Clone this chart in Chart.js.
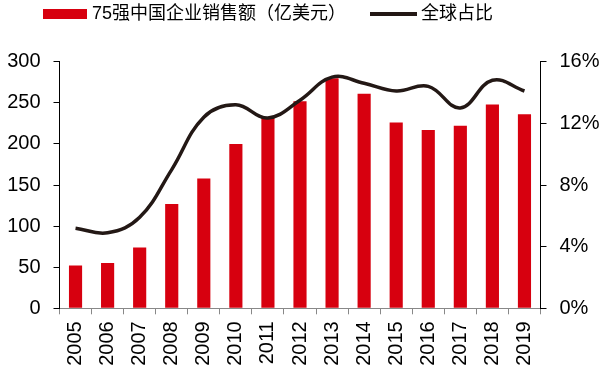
<!DOCTYPE html>
<html>
<head>
<meta charset="utf-8">
<script src="https://cdn.jsdelivr.net/npm/chart.js@4.4.0/dist/chart.umd.min.js"></script>
<style>
  html, body { margin: 0; padding: 0; background: #fff; }
</style>
</head>
<body>
<canvas id="chart" width="601" height="371"></canvas>
<script>
// data
var years = ['2005','2006','2007','2008','2009','2010','2011','2012','2013','2014','2015','2016','2017','2018','2019'];
var salesLabel = '75强中国企业销售额（亿美元）';
var shareLabel = '全球占比';
var sales = [52, 55, 74, 127, 158, 200, 232, 252, 280, 261, 226, 217, 222, 248, 236];
var share = [5.2, 4.9, 5.9, 9.0, 12.4, 13.2, 12.35, 13.5, 15.0, 14.6, 14.1, 14.4, 13.0, 14.8, 14.1];
var leftTicks = [0, 50, 100, 150, 200, 250, 300];
var rightTicks = [0, 4, 8, 12, 16];

var tickFont = { family: '"Liberation Sans", Arial, sans-serif', size: 20 };

// legend drawn by hand so it can sit above the plot like the original
var topLegend = {
  id: 'topLegend',
  afterDraw: function (chart) {
    var ctx = chart.ctx;
    var ds = chart.data.datasets;
    ctx.save();
    ctx.font = '18px "Liberation Sans", "Noto Sans CJK SC", sans-serif';
    ctx.textBaseline = 'middle';
    ctx.textAlign = 'left';
    ctx.fillStyle = ds[0].backgroundColor;
    ctx.fillRect(43, 9, 44, 10);
    ctx.fillStyle = '#000';
    ctx.fillText(ds[0].label, 92, 14);
    ctx.strokeStyle = ds[1].borderColor;
    ctx.lineWidth = 4;
    ctx.beginPath();
    ctx.moveTo(370, 14);
    ctx.lineTo(417, 14);
    ctx.stroke();
    ctx.fillStyle = '#000';
    ctx.fillText(ds[1].label, 421, 14);
    ctx.restore();
  }
};

var ctx = document.getElementById('chart').getContext('2d');
var chart = new Chart(ctx, {
  type: 'bar',
  data: {
    labels: years,
    datasets: [
      {
        type: 'bar',
        label: salesLabel,
        data: sales,
        backgroundColor: '#d7000f',
        categoryPercentage: 1,
        barPercentage: 0.41,
        yAxisID: 'y',
        order: 2
      },
      {
        type: 'line',
        label: shareLabel,
        data: share,
        borderColor: '#231815',
        borderWidth: 3.5,
        pointRadius: 0,
        tension: 0.4,
        fill: false,
        yAxisID: 'y1',
        order: 1
      }
    ]
  },
  options: {
    responsive: false,
    animation: false,
    devicePixelRatio: 1,
    layout: { padding: { top: 61.7, left: 0, right: 0, bottom: 0 } },
    plugins: {
      legend: { display: false },
      tooltip: { enabled: false }
    },
    scales: {
      x: {
        grid: { offset: true, drawOnChartArea: false, drawTicks: true, tickLength: 6, color: '#888' },
        border: { color: '#888', width: 1 },
        ticks: { minRotation: 90, maxRotation: 90, padding: 7, color: '#000', font: tickFont },
        afterFit: function (s) { s.height = 62.7; }
      },
      y: {
        position: 'left',
        min: 0,
        max: 300,
        grid: { drawOnChartArea: false, tickLength: 6, color: '#000' },
        border: { color: '#000', width: 1 },
        ticks: { padding: 13, color: '#000', font: tickFont },
        afterBuildTicks: function (s) { s.ticks = leftTicks.map(function (v) { return { value: v }; }); },
        afterFit: function (s) { s.width = 59.5; }
      },
      y1: {
        position: 'right',
        min: 0,
        max: 16,
        grid: { drawOnChartArea: false, tickLength: 6, color: '#000' },
        border: { color: '#000', width: 1 },
        ticks: {
          padding: 13,
          color: '#000',
          font: tickFont,
          callback: function (v) { return v + '%'; }
        },
        afterBuildTicks: function (s) { s.ticks = rightTicks.map(function (v) { return { value: v }; }); },
        afterFit: function (s) { s.width = 60.5; }
      }
    }
  },
  plugins: [topLegend]
});
</script>
</body>
</html>
